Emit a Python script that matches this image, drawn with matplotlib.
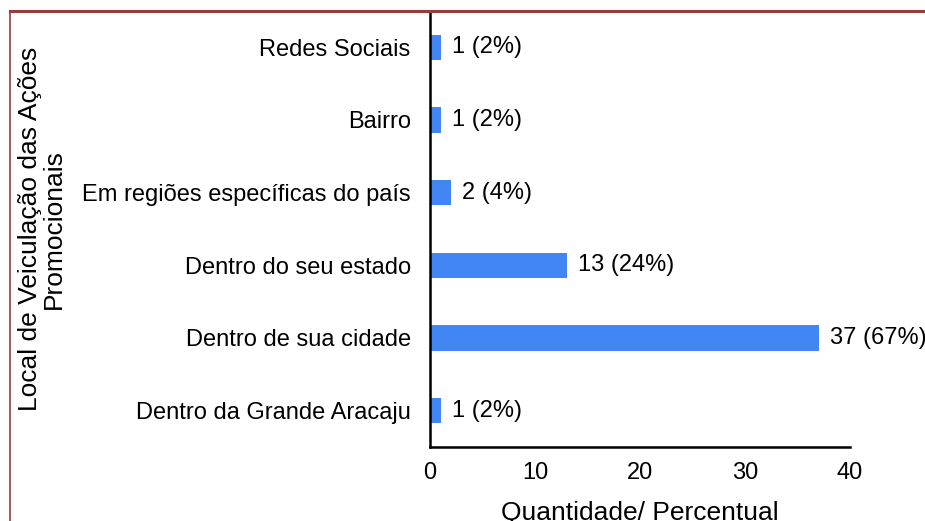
import matplotlib.pyplot as plt
from matplotlib.lines import Line2D

plt.rcParams.update({
    "font.family": ["Liberation Sans", "DejaVu Sans"],
    "font.size": 17,
})

categories = [
    "Dentro da Grande Aracaju",
    "Dentro de sua cidade",
    "Dentro do seu estado",
    "Em regiões específicas do país",
    "Bairro",
    "Redes Sociais",
]
counts = [1, 37, 13, 2, 1, 1]
percents = [2, 67, 24, 4, 2, 2]

BAR_COLOR = "#4285F4"
BORDER = "#9E3A3A"

fig = plt.figure(figsize=(9.25, 5.21), dpi=100)
ax = fig.add_axes([0.465, 0.142, 0.454, 0.837])

y = range(len(categories))
ax.barh(y, counts, height=0.35, color=BAR_COLOR)
for yi, c, p in zip(y, counts, percents):
    ax.annotate(f"{c} ({p}%)", (c, yi), textcoords="offset points",
                xytext=(8, 0), va="center", ha="left", fontsize=17)

ax.set_yticks(list(y))
ax.set_yticklabels(categories)
ax.set_xlim(0, 40)
ax.set_ylim(-0.5, 5.5)
ax.set_xticks([0, 10, 20, 30, 40])
ax.tick_params(axis="y", length=0, pad=14)
ax.tick_params(axis="x", length=0, pad=11)
for s in ["top", "right"]:
    ax.spines[s].set_visible(False)
for s in ["left", "bottom"]:
    ax.spines[s].set_linewidth(1.8)
ax.set_xlabel("Quantidade/ Percentual", fontsize=19, labelpad=12)
ax.set_ylabel("Local de Veiculação das Ações\nPromocionais", fontsize=19,
              linespacing=1.0)
ax.yaxis.set_label_coords(-0.867, 0.5)

# outer frame lines (partially visible)
fig.add_artist(Line2D([10 / 925, 1], [1 - 11 / 521] * 2, transform=fig.transFigure,
                      color=BORDER, lw=2.2))
fig.add_artist(Line2D([10 / 925] * 2, [0, 1 - 11 / 521], transform=fig.transFigure,
                      color=BORDER, lw=1.2))

fig.savefig("out.png", dpi=100)
